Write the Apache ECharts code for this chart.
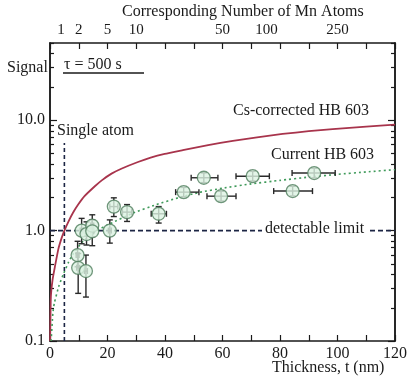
<!DOCTYPE html>
<html><head><meta charset="utf-8">
<script src="https://cdn.jsdelivr.net/npm/echarts@6/dist/echarts.min.js"></script>
<style>html,body{margin:0;padding:0;background:#fff}#c{width:410px;height:390px}</style>
</head><body><div id="c"></div>
<script>
// measured points (Current HB 603)
const pointX = [9.6, 9.8, 12.5, 11.0, 12.7, 14.7, 14.7, 20.8, 22.2, 26.8, 37.8, 46.5, 53.5, 59.5, 70.5, 84.4, 91.9];
const pointY = [0.60, 0.46, 0.43, 1.00, 0.93, 1.11, 0.985, 1.00, 1.65, 1.47, 1.42, 2.23, 3.01, 2.05, 3.11, 2.28, 3.32];
const xLow  = [9.1, 9.3, 12.0, 10.5, 12.2, 14.2, 14.2, 20.3, 20.8, 25.2, 35.2, 43.7, 49.1, 54.6, 64.7, 77.8, 84.2];
const xHigh = [10.1, 10.3, 13.0, 11.5, 13.2, 15.2, 15.2, 21.3, 23.6, 28.4, 40.5, 51.8, 58.4, 64.7, 76.3, 91.3, 99.2];
const yLow  = [0.47, 0.27, 0.25, 0.76, 0.74, 0.88, 0.73, 0.77, 1.34, 1.21, 1.17, 2.02, 2.72, 1.85, 2.81, 2.06, 3.00];
const yHigh = [0.80, 0.62, 0.60, 1.29, 1.20, 1.39, 1.25, 1.25, 1.98, 1.72, 1.65, 2.46, 3.33, 2.27, 3.44, 2.52, 3.67];

// Cs-corrected HB 603 curve
const csX = [0.05, 0.3, 0.9, 1.7, 2.9, 4.0, 5.0, 6.5, 8.0, 9.8, 12.0, 15.6, 18.0, 21.4, 25.0, 30.6, 35.0, 39.9, 46.2, 55.0, 63.6, 72.0, 80.9, 90.0, 98.3, 110, 120];
const csY = [0.10, 0.25, 0.36, 0.47, 0.68, 0.85, 1.00, 1.22, 1.45, 1.72, 2.05, 2.52, 2.85, 3.28, 3.65, 4.18, 4.58, 4.95, 5.35, 5.95, 6.50, 7.00, 7.50, 7.95, 8.30, 8.75, 9.10];
// Current HB 603 curve
const curX = [0.4, 1.0, 1.5, 3.0, 4.6, 6.5, 8.1, 11.5, 16.2, 20.8, 28.3, 37.0, 44.5, 52.0, 60, 70, 80, 90, 100, 110, 120];
const curY = [0.10, 0.18, 0.22, 0.31, 0.40, 0.52, 0.62, 0.80, 1.00, 1.15, 1.42, 1.72, 1.98, 2.22, 2.42, 2.65, 2.85, 3.05, 3.23, 3.40, 3.56];

const limitLevel = 1.0;
const singleAtomX = 5;
const singleAtomTop = 6.2;

const bottomTicks = [0,10,20,30,40,50,60,70,80,90,100,110,120];
const bottomLabels = [0,20,40,60,80,100,120];
const topTicks = [0,10,20,30,40,50,60,70,80,90,100,110,120];
const topLabelPos = [3.8, 10, 20, 30, 60, 75.3, 100];
const topLabelText = ['1', '2', '5', '10', '50', '100', '250'];
const yMajor = [0.1, 1, 10];
const yMinor = [0.2,0.3,0.4,0.5,0.6,0.7,0.8,0.9,2,3,4,5,6,7,8,9,20,30,40,50];

const F = '"Liberation Serif", "DejaVu Serif", serif';
const INK = '#1a1a1a';
const chart = echarts.init(document.getElementById('c'));

const zip = (a, b) => a.map((v, i) => [v, b[i]]);
const errData = pointX.map((x, i) => [x, pointY[i], xLow[i], xHigh[i], yLow[i], yHigh[i]]);

function yAx(pos, ticks, len, labels) {
  return {
    type: 'log', logBase: 10, min: 0.1, max: 50, position: pos,
    axisLine: { show: true, lineStyle: { color: INK, width: 1.5 } },
    axisTick: { show: true, inside: true, length: len, customValues: ticks, lineStyle: { color: INK, width: 1.2 } },
    axisLabel: labels ? { show: true, customValues: yMajor, formatter: v => Number(v).toFixed(1), color: INK, fontFamily: F, fontSize: 16, margin: 5 } : { show: false },
    splitLine: { show: false }, minorTick: { show: false }
  };
}

chart.setOption({
  animation: false,
  backgroundColor: '#fff',
  grid: { left: 50, right: 14, top: 43, bottom: 49, containLabel: false },
  xAxis: [
    {
      type: 'value', min: 0, max: 120, position: 'bottom',
      axisLine: { show: true, lineStyle: { color: INK, width: 1.5 } },
      axisTick: { show: true, inside: true, length: 6, customValues: bottomTicks, lineStyle: { color: INK, width: 1.2 } },
      axisLabel: { customValues: bottomLabels, color: INK, fontFamily: F, fontSize: 16, margin: 5 },
      splitLine: { show: false }
    },
    {
      type: 'value', min: 0, max: 120, position: 'top',
      axisLine: { show: true, lineStyle: { color: INK, width: 1.5 } },
      axisTick: { show: true, inside: true, length: 6, customValues: topTicks, lineStyle: { color: INK, width: 1.2 } },
      axisLabel: { customValues: topLabelPos, formatter: v => topLabelText[topLabelPos.indexOf(v)] || '', color: INK, fontFamily: F, fontSize: 15, margin: 5 },
      splitLine: { show: false }
    }
  ],
  yAxis: [
    yAx('left', yMajor, 7, true),
    yAx('left', yMinor, 4, false),
    yAx('right', yMajor, 7, false),
    yAx('right', yMinor, 4, false)
  ],
  series: [
    {
      type: 'line', name: 'Cs-corrected HB 603', data: zip(csX, csY), showSymbol: false, smooth: 0.15,
      lineStyle: { color: '#a8344c', width: 1.8 }, z: 3
    },
    {
      type: 'line', name: 'Current HB 603', data: zip(curX, curY), showSymbol: false, smooth: 0.15,
      lineStyle: { color: '#3f9a5a', width: 1.6, type: [2, 3] }, z: 3
    },
    {
      type: 'line', data: [[0, limitLevel], [120, limitLevel]], showSymbol: false,
      lineStyle: { color: '#1c2544', width: 1.6, type: [5, 3] }, z: 2
    },
    {
      type: 'line', data: [[singleAtomX, 0.1], [singleAtomX, singleAtomTop]], showSymbol: false,
      lineStyle: { color: '#1c2544', width: 1.6, type: [4, 3] }, z: 2
    },
    {
      type: 'custom', data: errData, encode: { x: [0, 2, 3], y: [1, 4, 5] }, z: 4,
      renderItem: function (params, api) {
        const c = api.coord([api.value(0), api.value(1)]);
        const xl = api.coord([api.value(2), api.value(1)]);
        const xh = api.coord([api.value(3), api.value(1)]);
        const yl = api.coord([api.value(0), api.value(4)]);
        const yh = api.coord([api.value(0), api.value(5)]);
        const st = { stroke: '#2a2a2a', lineWidth: 1.4 };
        const cap = 3;
        return {
          type: 'group', children: [
            { type: 'line', shape: { x1: xl[0], y1: c[1], x2: xh[0], y2: c[1] }, style: st },
            { type: 'line', shape: { x1: xl[0], y1: c[1] - cap, x2: xl[0], y2: c[1] + cap }, style: st },
            { type: 'line', shape: { x1: xh[0], y1: c[1] - cap, x2: xh[0], y2: c[1] + cap }, style: st },
            { type: 'line', shape: { x1: c[0], y1: yl[1], x2: c[0], y2: yh[1] }, style: st },
            { type: 'line', shape: { x1: c[0] - cap, y1: yl[1], x2: c[0] + cap, y2: yl[1] }, style: st },
            { type: 'line', shape: { x1: c[0] - cap, y1: yh[1], x2: c[0] + cap, y2: yh[1] }, style: st }
          ]
        };
      }
    },
    {
      type: 'scatter', data: zip(pointX, pointY), symbol: 'circle', symbolSize: 13, z: 5,
      itemStyle: { color: '#dcf2e2', borderColor: '#4f7d5c', borderWidth: 1.3 }
    }
  ],
  graphic: [
    { type: 'text', left: 122, top: 4, style: { text: 'Corresponding Number of Mn Atoms', font: '16px ' + F, fill: INK } },
    { type: 'text', left: 7, top: 60, style: { text: 'Signal', font: '16px ' + F, fill: INK } },
    { type: 'text', left: 64, top: 57, style: { text: 'τ = 500 s', font: '16px ' + F, fill: INK } },
    { type: 'line', shape: { x1: 63, y1: 73, x2: 144, y2: 73 }, style: { stroke: INK, lineWidth: 1.5 } },
    { type: 'text', left: 57, top: 123, style: { text: 'Single atom', font: '16px ' + F, fill: INK } },
    { type: 'text', left: 233, top: 103, style: { text: 'Cs-corrected HB 603', font: '16px ' + F, fill: INK } },
    { type: 'text', left: 271, top: 147, style: { text: 'Current HB 603', font: '16px ' + F, fill: INK } },
    { type: 'text', left: 262, top: 221, z: 10, style: { text: 'detectable limit', font: '16px ' + F, fill: INK, backgroundColor: '#fff', padding: [0, 3] } },
    { type: 'text', left: 272, top: 360, style: { text: 'Thickness, t (nm)', font: '16px ' + F, fill: INK } }
  ]
});
</script>
</body></html>
